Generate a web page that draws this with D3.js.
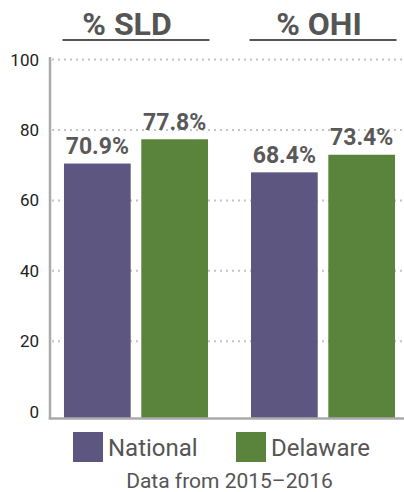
<!DOCTYPE html>
<html><head><meta charset="utf-8">
<script src="https://cdn.jsdelivr.net/npm/d3@7"></script>
<style>body{margin:0;background:#fff;}svg{display:block;font-family:Roboto,sans-serif;}</style>
</head><body>
<svg id="chart" width="404" height="492"></svg>
<script>
const categories = ["% SLD", "% OHI"];
const seriesNames = ["National", "Delaware"];
const nationalValues = [70.9, 68.4];
const delawareValues = [77.8, 73.4];
const yTicks = [0, 20, 40, 60, 80, 100];
const caption = "Data from 2015\u20132016";
const colors = {National: "#5d5680", Delaware: "#5a843c"};

const svg = d3.select("#chart");
const y = d3.scaleLinear().domain([-1.8, 100]).range([418, 59.6]);
const x0 = d3.scaleBand().domain(categories).range([55, 404]).paddingInner(0.23).paddingOuter(0.048);
const x1 = d3.scaleBand().domain(seriesNames).range([0, x0.bandwidth()]).paddingInner(0.137).paddingOuter(0);

// gridlines
svg.append("g").selectAll("line").data(yTicks.filter(d => d > 0)).join("line")
  .attr("x1", 52).attr("x2", 404)
  .attr("y1", d => y(d)).attr("y2", d => y(d))
  .attr("stroke", "#c4c4c4").attr("stroke-width", 2).attr("stroke-dasharray", "2,4");

// bars
const data = categories.map((c, i) => ({cat: c, vals: [
  {s: "National", v: nationalValues[i]}, {s: "Delaware", v: delawareValues[i]}]}));
const g = svg.append("g").selectAll("g").data(data).join("g")
  .attr("transform", d => `translate(${x0(d.cat)},0)`);
g.selectAll("rect").data(d => d.vals).join("rect")
  .attr("x", d => x1(d.s)).attr("width", x1.bandwidth())
  .attr("y", d => y(d.v) + 1.5).attr("height", d => y(-1.8) - y(d.v) - 1.5)
  .attr("fill", d => colors[d.s]);
g.selectAll("text").data(d => d.vals).join("text")
  .attr("x", d => x1(d.s) + x1.bandwidth() / 2).attr("y", d => y(d.v) - 8)
  .attr("text-anchor", "middle").attr("font-size", 23).attr("font-weight", "bold")
  .attr("fill", "#595959").text(d => d.v.toFixed(1) + "%");

// axes
const yAxis = d3.axisLeft(y).tickValues(yTicks).tickSize(0).tickPadding(10);
const ya = svg.append("g").attr("transform", "translate(50,0)").call(yAxis);
ya.select(".domain").remove();
ya.selectAll("text").attr("font-size", 17).attr("fill", "#222").attr("font-family", "Roboto,sans-serif")
  .attr("x", -11);
svg.append("line").attr("x1", 50).attr("x2", 50).attr("y1", 57).attr("y2", 419)
  .attr("stroke", "#aaa").attr("stroke-width", 2.5);
svg.append("line").attr("x1", 48.75).attr("x2", 404).attr("y1", 418.5).attr("y2", 418.5)
  .attr("stroke", "#aaa").attr("stroke-width", 2.5);

// titles
const titleShift = [-9, -4];
const tg = svg.append("g").selectAll("g").data(categories).join("g");
tg.append("text").attr("x", (d, i) => x0(d) + x0.bandwidth() / 2 + titleShift[i]).attr("y", 35)
  .attr("text-anchor", "middle").attr("font-size", 32).attr("font-weight", "bold")
  .attr("fill", "#555").text(d => d);
tg.append("line").attr("x1", d => x0(d) - 1.5).attr("x2", d => x0(d) + x0.bandwidth() + 1.5)
  .attr("y1", 40).attr("y2", 40).attr("stroke", "#555").attr("stroke-width", 2);

// legend
const legX = [73, 236];
const lg = svg.append("g").selectAll("g").data(seriesNames).join("g")
  .attr("transform", (d, i) => `translate(${legX[i]},432)`);
lg.append("rect").attr("width", 30).attr("height", 30).attr("fill", d => colors[d]);
lg.append("text").attr("x", 35).attr("y", 24).attr("font-size", 24).attr("fill", "#555").text(d => d);

svg.append("text").attr("x", 229.5).attr("y", 487.5).attr("text-anchor", "middle")
  .attr("font-size", 21).attr("fill", "#555").text(caption);
</script>
</body></html>
